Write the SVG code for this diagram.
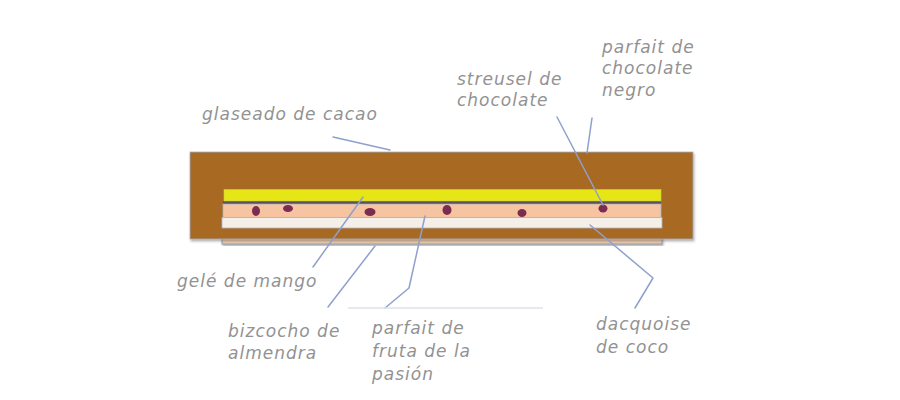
<svg xmlns="http://www.w3.org/2000/svg" width="900" height="400" viewBox="0 0 900 400">
<style>
.lbl{font-family:"DejaVu Sans","Liberation Sans",sans-serif;font-style:italic;font-size:17px;letter-spacing:1px;fill:#929292}
.con{fill:none;stroke:#8fa0cc;stroke-width:1.5;stroke-linecap:round;stroke-linejoin:round}
.dot{fill:#7b2c50}
</style>
<defs>
<filter id="sh" x="-5%" y="-10%" width="110%" height="130%">
<feDropShadow dx="1" dy="2" stdDeviation="1.2" flood-color="#555" flood-opacity="0.45"/>
</filter>
</defs>
<rect width="900" height="400" fill="#ffffff"/>
<g id="cake">
<rect x="222" y="236" width="440" height="8" fill="#f0cbab" stroke="#9a9aa8" stroke-width="1" filter="url(#sh)"/>
<rect x="190" y="152" width="503" height="87" fill="#a86a22" stroke="#9fb4d0" stroke-width="0.8" filter="url(#sh)"/>
<rect x="222" y="217.5" width="440" height="10.5" fill="#f4efe8" stroke="#a8b6cc" stroke-width="0.8"/>
<rect x="223" y="204" width="438" height="13.5" fill="#f7c4a2" stroke="#a8b6cc" stroke-width="0.8"/>
<rect x="223" y="201" width="438" height="2.5" fill="#5e5058"/>
<rect x="224" y="189.5" width="437" height="11.5" fill="#e6e616" stroke="#c8c860" stroke-width="0.6"/>
<ellipse class="dot" cx="256" cy="211" rx="4" ry="5"/>
<ellipse class="dot" cx="288" cy="208.5" rx="5" ry="3.5"/>
<ellipse class="dot" cx="370" cy="212" rx="5.5" ry="4"/>
<ellipse class="dot" cx="447" cy="210" rx="4.5" ry="5"/>
<ellipse class="dot" cx="522" cy="213" rx="4.5" ry="4"/>
<ellipse class="dot" cx="603" cy="208.5" rx="4.5" ry="4"/>
</g>
<g id="connectors">
<path class="con" d="M333,137 L390,150"/>
<path class="con" d="M557,117 L603,205"/>
<path class="con" d="M592,118 L587,153"/>
<path class="con" d="M363,197 L313,267"/>
<path class="con" d="M375,246 L328,307"/>
<path class="con" d="M425,216 L409,288 L385,308"/>
<path class="con" d="M590,225 L653,278 L635,308"/>
<path d="M348,308 L543,308" stroke="#dfe2e8" stroke-width="1.5" fill="none"/>
</g>
<g id="label-glaseado"><text class="lbl" x="202" y="120">glaseado de cacao</text></g>
<g id="label-streusel"><text class="lbl" x="457" y="85">streusel de</text><text class="lbl" x="457" y="106">chocolate</text></g>
<g id="label-parfait-choc"><text class="lbl" x="602" y="53">parfait de</text><text class="lbl" x="602" y="74">chocolate</text><text class="lbl" x="602" y="96">negro</text></g>
<g id="label-gele"><text class="lbl" x="177" y="287">gelé de mango</text></g>
<g id="label-bizcocho"><text class="lbl" x="228" y="337">bizcocho de</text><text class="lbl" x="228" y="359">almendra</text></g>
<g id="label-parfait-fruta"><text class="lbl" x="372" y="334">parfait de</text><text class="lbl" x="372" y="357">fruta de la</text><text class="lbl" x="372" y="380">pasión</text></g>
<g id="label-dacquoise"><text class="lbl" x="596" y="330">dacquoise</text><text class="lbl" x="596" y="353">de coco</text></g>
</svg>
